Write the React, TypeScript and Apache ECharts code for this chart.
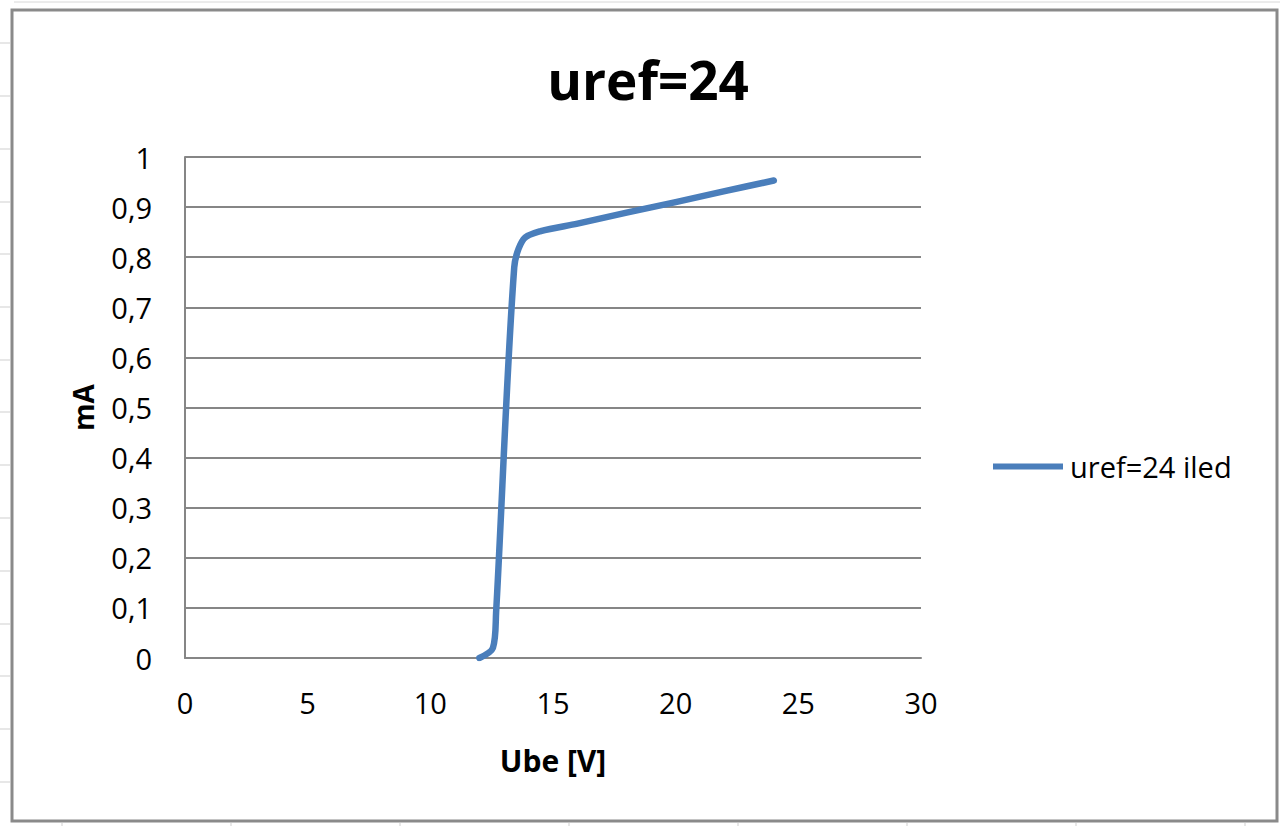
import React, { useEffect, useRef } from "react";
import * as echarts from "echarts";

const titleText = "uref=24";
const seriesName = "uref=24 iled";
const xAxisName = "Ube [V]";
const yAxisName = "mA";
const ube = [12, 12.55, 12.68, 13.42, 13.8, 14.5, 16, 18, 20, 22, 24];
const iled = [0, 0.02, 0.09, 0.78, 0.836, 0.852, 0.867, 0.889, 0.91, 0.932, 0.953];
const xTicks = [0, 5, 10, 15, 20, 25, 30];
const yTickLabels = ["0", "0,1", "0,2", "0,3", "0,4", "0,5", "0,6", "0,7", "0,8", "0,9", "1"];
const sheetRows = [43, 96, 149, 202, 254, 307, 360, 412, 465, 518, 571, 624, 676, 729, 782];
const sheetCols = [62, 231, 400, 569, 738, 907, 1076, 1245];

export default function App() {
  const ref = useRef<HTMLDivElement>(null);
  useEffect(() => {
    if (!ref.current) return;
    const chart = echarts.init(ref.current, null, { renderer: "svg" });
    const font = "'Open Sans', 'Noto Sans', sans-serif";
    const grey = "#868686";
    const sheetLines: any[] = [];
    sheetRows.forEach((y) =>
      sheetLines.push({ type: "line", shape: { x1: 0, y1: y, x2: 10, y2: y }, style: { stroke: "#cfcfcf", lineWidth: 1 } })
    );
    sheetCols.forEach((x) =>
      sheetLines.push({ type: "line", shape: { x1: x, y1: 823, x2: x, y2: 826 }, style: { stroke: "#cfcfcf", lineWidth: 1 } })
    );
    chart.setOption({
      animation: false,
      backgroundColor: "#ffffff",
      title: {
        text: titleText,
        left: 643,
        textAlign: "center",
        top: 48,
        textStyle: { fontFamily: font, fontSize: 53, fontWeight: "bold", color: "#000" },
      },
      legend: {
        left: 993,
        top: 452,
        padding: 0,
        icon: "path://M0,0 L70,0 L70,6 L0,6 Z",
        itemWidth: 70,
        itemHeight: 6,
        itemGap: 10,
        textStyle: { fontFamily: font, fontSize: 29, color: "#000", padding: [0, 0, 0, 2] },
        data: [{ name: seriesName, itemStyle: { color: "#4a7ebb" } }],
      },
      graphic: [
        {
          type: "rect",
          shape: { x: 12, y: 10, width: 1265, height: 811 },
          style: { fill: "none", stroke: "#8a8a8a", lineWidth: 3 },
          z: -1,
        },
        { type: "line", shape: { x1: 14, y1: 2, x2: 1280, y2: 2 }, style: { stroke: "#d8d8d8", lineWidth: 1 } },
        ...sheetLines,
      ],
      grid: { left: 185, top: 157, width: 736, height: 501, containLabel: false },
      xAxis: {
        type: "value",
        min: xTicks[0],
        max: xTicks[xTicks.length - 1],
        interval: 5,
        name: xAxisName,
        nameLocation: "middle",
        nameGap: 87,
        nameTextStyle: { fontFamily: font, fontSize: 30, fontWeight: "bold", color: "#000" },
        axisLine: { show: true, lineStyle: { color: grey, width: 2 } },
        axisTick: { show: false },
        splitLine: { show: false },
        axisLabel: { fontFamily: font, fontSize: 29, color: "#000", margin: 30 },
      },
      yAxis: {
        type: "value",
        min: 0,
        max: 1,
        interval: 0.1,
        name: yAxisName,
        nameLocation: "middle",
        nameRotate: 90,
        nameGap: 88,
        nameTextStyle: { fontFamily: font, fontSize: 28, fontWeight: "bold", color: "#000" },
        axisLine: { show: true, lineStyle: { color: grey, width: 2 } },
        axisTick: { show: false },
        splitLine: { show: true, lineStyle: { color: grey, width: 2 } },
        axisLabel: {
          fontFamily: font,
          fontSize: 29,
          color: "#000",
          margin: 33,
          formatter: (v: number) => yTickLabels[Math.round(v * 10)] ?? String(v),
        },
      },
      series: [
        {
          name: seriesName,
          type: "line",
          data: ube.map((x, i) => [x, iled[i]]),
          smooth: 0.3,
          showSymbol: false,
          symbol: "none",
          lineStyle: { color: "#4a7ebb", width: 6.5, cap: "round", join: "round" },
          itemStyle: { color: "#4a7ebb" },
        },
      ],
    });
    return () => chart.dispose();
  }, []);
  return (
    <div
      ref={ref}
      style={{ position: "fixed", left: 0, top: 0, width: 1280, height: 826, background: "#fff" }}
    />
  );
}
